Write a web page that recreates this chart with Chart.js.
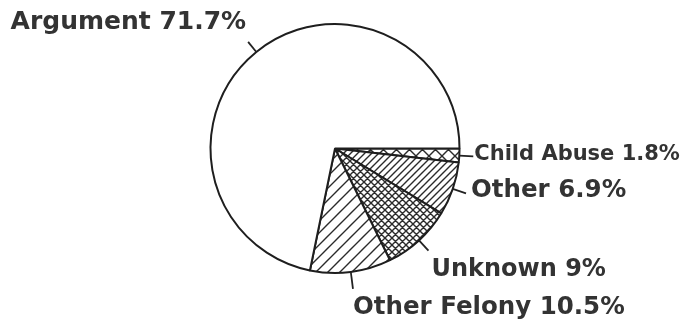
<!DOCTYPE html>
<html>
<head>
<meta charset="utf-8">
<script src="https://cdn.jsdelivr.net/npm/chart.js@4.4.1/dist/chart.umd.min.js"></script>
<style>
html, body { margin: 0; padding: 0; background: #fff; }
#wrap { width: 688px; height: 319px; position: relative; }
</style>
</head>
<body>
<div id="wrap"><canvas id="pie_chart"></canvas></div>
<script>
// slices go clockwise starting at 3 o'clock
const categories = ['Child Abuse', 'Other', 'Unknown', 'Other Felony', 'Argument'];
const percents = [1.8, 6.9, 9, 10.5, 71.7];

// label look and placement, relative to the end of each leader line
const labelStyle = [
  { size: 21,   lead: 14, dx: 1,  dy: 4,   align: 'left' },
  { size: 24.5, lead: 14, dx: 5,  dy: 4,   align: 'left' },
  { size: 24,   lead: 14, dx: 3,  dy: 25,  align: 'left' },
  { size: 24.5, lead: 17, dx: 0,  dy: 25,  align: 'left' },
  { size: 25,   lead: 13, dx: -2, dy: -13, align: 'right' }
];

function hatch(step, fwd, back) {
  const c = document.createElement('canvas');
  c.width = step; c.height = step;
  const g = c.getContext('2d');
  g.fillStyle = '#fff';
  g.fillRect(0, 0, step, step);
  g.strokeStyle = '#2b2b2b';
  g.lineWidth = 1.4;
  g.beginPath();
  if (fwd) {
    g.moveTo(-1, step + 1); g.lineTo(step + 1, -1);
    g.moveTo(-1, 1); g.lineTo(1, -1);
    g.moveTo(step - 1, step + 1); g.lineTo(step + 1, step - 1);
  }
  if (back) {
    g.moveTo(-1, -1); g.lineTo(step + 1, step + 1);
    g.moveTo(step - 1, -1); g.lineTo(step + 1, 1);
    g.moveTo(-1, step - 1); g.lineTo(1, step + 1);
  }
  g.stroke();
  return g.createPattern(c, 'repeat');
}

const fills = [hatch(13, true, true), hatch(7, true, false), hatch(7, true, true), hatch(12, true, false), '#fff'];

const pieLabels = {
  id: 'pieLabels',
  afterDatasetsDraw(chart) {
    const ctx = chart.ctx;
    ctx.save();
    chart.getDatasetMeta(0).data.forEach(function(arc, i) {
      const p = arc.getProps(['x', 'y', 'startAngle', 'endAngle', 'outerRadius'], true);
      const mid = (p.startAngle + p.endAngle) / 2;
      const s = labelStyle[i];
      const x0 = p.x + Math.cos(mid) * p.outerRadius;
      const y0 = p.y + Math.sin(mid) * p.outerRadius;
      const x1 = p.x + Math.cos(mid) * (p.outerRadius + s.lead);
      const y1 = p.y + Math.sin(mid) * (p.outerRadius + s.lead);
      ctx.strokeStyle = '#222';
      ctx.lineWidth = 1.8;
      ctx.beginPath();
      ctx.moveTo(x0, y0);
      ctx.lineTo(x1, y1);
      ctx.stroke();
      ctx.fillStyle = '#333';
      ctx.font = 'bold ' + s.size + 'px "DejaVu Sans"';
      ctx.textAlign = s.align;
      ctx.textBaseline = 'alphabetic';
      ctx.fillText(categories[i] + ' ' + percents[i] + '%', x1 + s.dx, y1 + s.dy);
    });
    ctx.restore();
  }
};

new Chart(document.getElementById('pie_chart').getContext('2d'), {
  type: 'pie',
  data: {
    labels: categories,
    datasets: [{ data: percents, backgroundColor: fills, borderColor: '#1e1e1e', borderWidth: 2 }]
  },
  options: {
    responsive: true,
    maintainAspectRatio: false,
    animation: false,
    rotation: 90,
    layout: { padding: { top: 23, bottom: 45, left: 0, right: 18 } },
    plugins: { legend: { display: false }, tooltip: { enabled: false } }
  },
  plugins: [pieLabels]
});
</script>
</body>
</html>
